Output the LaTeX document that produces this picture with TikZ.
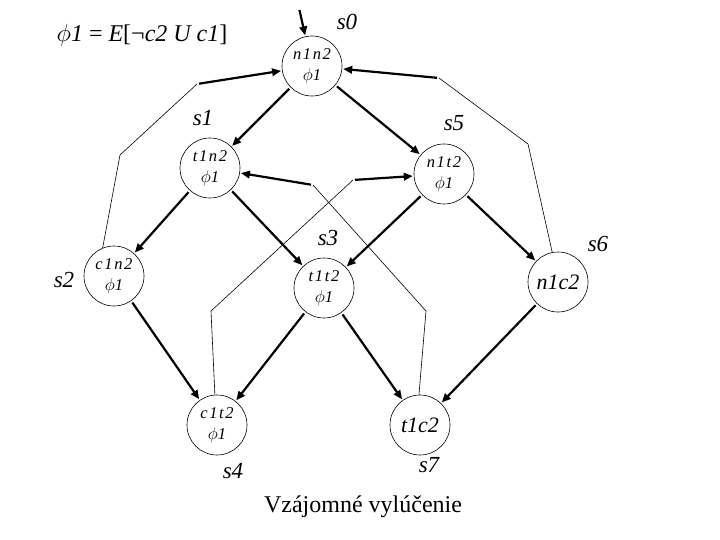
\documentclass[tikz,border=0pt]{standalone}
\usepackage{fontspec}
\setmainfont{Liberation Serif}
\usetikzlibrary{arrows.meta}

\tikzset{
  state/.style={draw, circle, line width=0.6pt, minimum size=60pt, inner sep=0pt, align=center,
    font=\fontsize{16.5}{21}\selectfont\itshape\addfontfeature{LetterSpace=10}},
  bigstate/.style={state, font=\fontsize{22}{24}\selectfont\itshape},
  tag/.style={font=\fontsize{23}{25}\selectfont\itshape},
  trans/.style={line width=2.2pt, shorten >=1pt, shorten <=2pt, -{Triangle[length=9pt,width=7.5pt]}},
  back/.style={line width=0.6pt},
}

\begin{document}
\begin{tikzpicture}[x=1pt, y=-1pt]
  \useasboundingbox (0,0) rectangle (720,540);

  % states
  \node[state] (s0) at (312,66) {n1n2\\$\phi$1};
  \node[state] (s1) at (210,168) {t1n2\\$\phi$1};
  \node[state] (s5) at (444,174) {n1t2\\$\phi$1};
  \node[state] (s2) at (114,276) {c1n2\\$\phi$1};
  \node[state] (s3) at (324,288) {t1t2\\$\phi$1};
  \node[bigstate] (s6) at (558,282) {n1c2};
  \node[state] (s4) at (217,425) {c1t2\\$\phi$1};
  \node[bigstate] (s7) at (420,425) {t1c2};

  % state names
  \node[tag] (l0) at (347,22) {s0};
  \node[tag] (l1) at (203,118) {s1};
  \node[tag] (l5) at (454,123) {s5};
  \node[tag] (l2) at (64,280) {s2};
  \node[tag] (l3) at (328,238) {s3};
  \node[tag] (l6) at (598,244) {s6};
  \node[tag] (l4) at (233,471) {s4};
  \node[tag] (l7) at (429,465) {s7};

  % formula and caption
  \node[font=\fontsize{24}{26}\selectfont] (title) at (142,35)
    {\textit{$\phi$1} = \textit{E}[¬\textit{c2 U c1}]};
  \node[font=\fontsize{24}{26}\selectfont] (caption) at (363,507) {Vzájomné vylúčenie};

  % initial arrow
  \coordinate (init) at (299,8);
  \draw[trans] (init) -- (s0);

  % transitions
  \draw[trans] (s0) -- (s1);
  \draw[trans] (s0) -- (s5);
  \draw[trans] (s1) -- (s2);
  \draw[trans] (s1) -- (s3);
  \draw[trans] (s5) -- (s3);
  \draw[trans] (s5) -- (s6);
  \draw[trans] (s2) -- (s4);
  \draw[trans] (s3) -- (s4);
  \draw[trans] (s3) -- (s7);
  \draw[trans] (s6) -- (s7);

  % long way back
  \coordinate (b1) at (120,155);
  \coordinate (b2) at (197,84);
  \draw[back] (s2.112) -- (b1) -- (b2);
  \draw[trans] (b2) -- (s0);

  \coordinate (c1) at (528,144);
  \coordinate (c2) at (439,78);
  \draw[back] (s6.101) -- (c1) -- (c2);
  \draw[trans] (c2) -- (s0);

  \coordinate (d1) at (211,311);
  \coordinate (d2) at (353,180);
  \draw[back] (s4.94) -- (d1) -- (d2);
  \draw[trans] (d2) -- (s5);

  \coordinate (e1) at (426,311);
  \coordinate (e2) at (313,185);
  \draw[back] (s7.92) -- (e1) -- (e2);
  \draw[trans] (e2) -- (s1);
\end{tikzpicture}
\end{document}
